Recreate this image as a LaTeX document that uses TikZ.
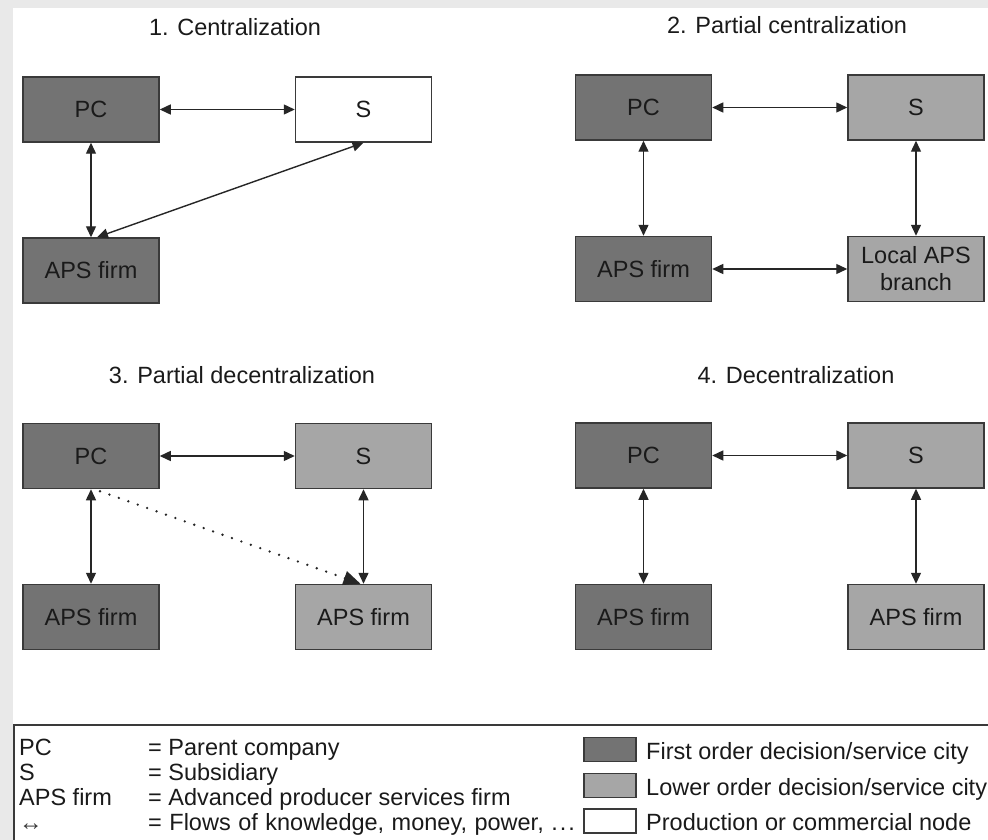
\documentclass[tikz,border=0pt]{standalone}
\usepackage{fontspec}
\setmainfont{Liberation Sans}
\usetikzlibrary{arrows.meta,calc}
\definecolor{bgray}{HTML}{E9E9E9}
\definecolor{darkfill}{HTML}{737373}
\definecolor{lightfill}{HTML}{A6A6A6}
\definecolor{edge}{HTML}{3A3A3A}
\definecolor{ink}{HTML}{1A1A1A}
\definecolor{arrowc}{HTML}{262626}
\begin{document}
\begin{tikzpicture}[x=1pt,y=-1pt,font=\fontsize{23.5}{27}\selectfont,
  box/.style={draw=edge,line width=1.5pt,minimum width=136pt,minimum height=65pt,inner sep=0pt,text=ink,align=center},
  first/.style={box,fill=darkfill},
  lower/.style={box,fill=lightfill},
  prod/.style={box,fill=white},
  flow/.style={draw=arrowc,line width=1.4pt,{Triangle[length=11pt,width=10pt]}-{Triangle[length=11pt,width=10pt]}},
  dotflow/.style={draw=arrowc,line width=2.6pt,line cap=round,dash pattern=on 0pt off 10pt,-{Triangle[length=17pt,width=14pt]}},
  paneltitle/.style={text=ink,inner sep=0pt},
  swatch/.style={draw=edge,line width=1.5pt,minimum width=52pt,minimum height=24pt,inner sep=0pt},
  legtext/.style={anchor=base west,text=ink,inner sep=0pt}]
\useasboundingbox (0,0) rectangle (988,840);
\fill[bgray] (0,0) rectangle (988,840);
\fill[white] (13,8) rectangle (988,840);

% Panel 1
\node[paneltitle] (t1) at (235,27) {1. Centralization};
\node[first] (pc1) at (91,109.5) {PC};
\node[prod] (s1) at (363.5,109.5) {S};
\node[first] (aps1) at (91,270.5) {APS firm};
\draw[flow] (pc1) -- (s1);
\draw[flow] (pc1) -- (aps1);
\draw[flow] ($(aps1.north)+(6,0)$) -- (s1.south);

% Panel 2
\node[paneltitle] (t2) at (787,25) {2. Partial centralization};
\node[first] (pc2) at (643.5,107.5) {PC};
\node[lower] (s2) at (916,107.5) {S};
\node[first] (aps2) at (643.5,269) {APS firm};
\node[lower] (loc2) at (916,269) {Local APS\\branch};
\draw[flow] (pc2) -- (s2);
\draw[flow] (pc2) -- (aps2);
\draw[flow] (s2) -- (loc2);
\draw[flow] (aps2) -- (loc2);

% Panel 3
\node[paneltitle] (t3) at (242,375) {3. Partial decentralization};
\node[first] (pc3) at (91,456) {PC};
\node[lower] (s3) at (363.5,456) {S};
\node[first] (aps3) at (91,617) {APS firm};
\node[lower] (apsb3) at (363.5,617) {APS firm};
\draw[flow] (pc3) -- (s3);
\draw[flow] (pc3) -- (aps3);
\draw[flow] (s3) -- (apsb3);
\draw[dotflow] ($(pc3.south)+(9,2)$) -- ($(apsb3.north)+(-3,0)$);

% Panel 4
\node[paneltitle] (t4) at (796,375) {4. Decentralization};
\node[first] (pc4) at (643.5,455.5) {PC};
\node[lower] (s4) at (916,455.5) {S};
\node[first] (aps4) at (643.5,617) {APS firm};
\node[lower] (apsb4) at (916,617) {APS firm};
\draw[flow] (pc4) -- (s4);
\draw[flow] (pc4) -- (aps4);
\draw[flow] (s4) -- (apsb4);

% Legend
\coordinate (legTR) at (988,725);
\coordinate (legBL) at (14,840);
\draw[edge,line width=1.5pt] (legTR) -| (legBL);
\node[legtext] (k1) at (19,755) {PC};
\node[legtext] (v1) at (148,755) {= Parent company};
\node[legtext] (k2) at (19,780) {S};
\node[legtext] (v2) at (148,780) {= Subsidiary};
\node[legtext] (k3) at (19,805) {APS firm};
\node[legtext] (v3) at (148,805) {= Advanced producer services firm};
\node[legtext,text=edge] (k4) at (19,830) {↔};
\node[legtext] (v4) at (148,830) {\spaceskip=7.5pt = Flows of knowledge, money, power, .\kern2pt.\kern2pt.};
\node[swatch,fill=darkfill] (sw1) at (610,749.5) {};
\node[swatch,fill=lightfill] (sw2) at (610,785.5) {};
\node[swatch,fill=white] (sw3) at (610,821) {};
\node[legtext] (l1) at (646,759) {First order decision/service city};
\node[legtext] (l2) at (646,795) {Lower order decision/service city};
\node[legtext] (l3) at (646,830) {Production or commercial node};
\end{tikzpicture}
\end{document}
